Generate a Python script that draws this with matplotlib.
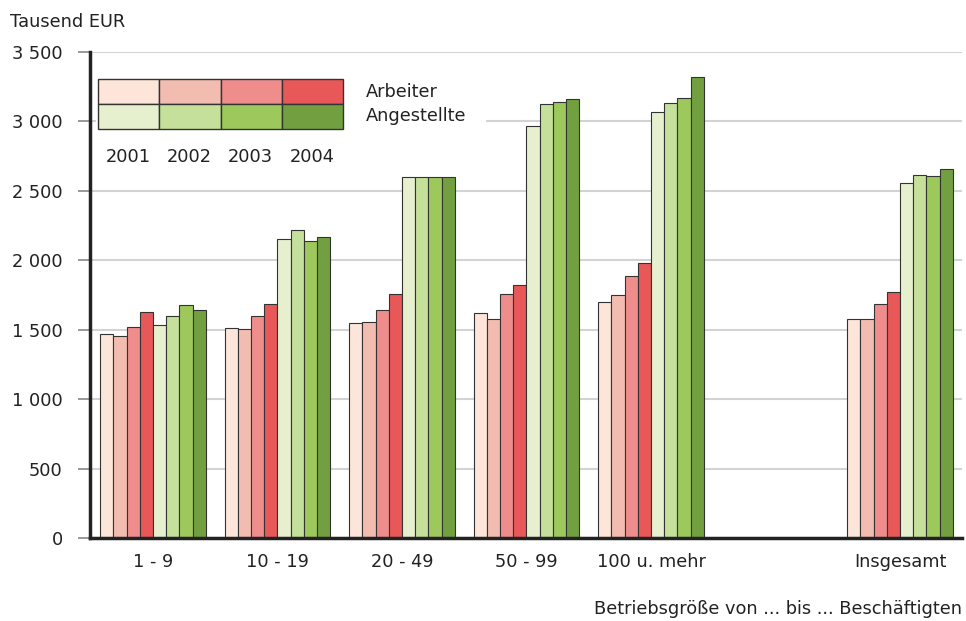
import matplotlib.pyplot as plt
import matplotlib.patches as mpatches
import numpy as np

plt.rcParams['font.family'] = ['DejaVu Sans']

groups = ['1 - 9', '10 - 19', '20 - 49', '50 - 99', '100 u. mehr', 'Insgesamt']
group_pos = [0, 1, 2, 3, 4, 6]
years = ['2001', '2002', '2003', '2004']

# Tausend EUR, per group: 2001..2004
arbeiter = [
    [1467, 1457, 1522, 1625],
    [1515, 1507, 1601, 1683],
    [1546, 1555, 1640, 1757],
    [1618, 1579, 1757, 1820],
    [1697, 1748, 1887, 1978],
    [1575, 1579, 1683, 1774],
]
angestellte = [
    [1536, 1596, 1676, 1642],
    [2153, 2218, 2139, 2165],
    [2600, 2600, 2600, 2600],
    [2969, 3123, 3140, 3161],
    [3068, 3131, 3171, 3318],
    [2559, 2614, 2609, 2660],
]

red_cols = ['#FDE5D9', '#F2BDB0', '#EF8D8D', '#E85858']
green_cols = ['#E6F0CF', '#C4E09B', '#9DC85C', '#72A040']

fs = 12.8
tc = '#222222'
W, H = 966, 621
fig = plt.figure(figsize=(W / 100, H / 100), dpi=100)
ax = fig.add_axes([90 / W, (H - 538) / H, 872 / W, 486 / H])

bw = 0.1064
for g, x0 in enumerate(group_pos):
    vals = arbeiter[g] + angestellte[g]
    cols = red_cols + green_cols
    xs = x0 + (np.arange(8) - 3.5) * bw
    ax.bar(xs, vals, width=bw, color=cols, edgecolor='#333333', linewidth=0.8, zorder=2)

ax.set_xlim(-0.506, 6.498)
ax.set_ylim(0, 3500)
ax.set_yticks(np.arange(0, 3501, 500))
ax.set_yticklabels([f'{v:,}'.replace(',', ' ') for v in range(0, 3501, 500)], fontsize=fs, color=tc)
ax.set_xticks(group_pos)
ax.set_xticklabels(groups, fontsize=fs, color=tc)
ax.tick_params(axis='x', length=0, pad=11)
ax.tick_params(axis='y', length=8.6, width=1.2, color='#888888', pad=11)
ax.yaxis.grid(True, color='#D3D3D3', linewidth=1.5, zorder=0)
ax.set_axisbelow(True)
for s in ['top', 'right']:
    ax.spines[s].set_visible(False)
for s in ['left', 'bottom']:
    ax.spines[s].set_linewidth(2.5)
    ax.spines[s].set_color(tc)
    ax.spines[s].set_zorder(3)

fig.text(10 / W, 1 - 22 / H, 'Tausend EUR', fontsize=fs, color=tc, va='center', ha='left')
fig.text(962 / W, 1 - 609 / H, 'Betriebsgröße von ... bis ... Beschäftigten', fontsize=fs,
         color=tc, va='center', ha='right')

# legend table
bg = fig.add_axes([96 / W, (H - 132) / H, 390 / W, 56 / H])
bg.set_facecolor('white')
bg.set_xticks([])
bg.set_yticks([])
for s in bg.spines.values():
    s.set_visible(False)
bg.set_zorder(5)

lg = fig.add_axes([98 / W, (H - 129) / H, 245 / W, 50 / H])
lg.set_xlim(0, 4)
lg.set_ylim(0, 2)
lg.axis('off')
lg.set_zorder(6)
for i in range(4):
    lg.add_patch(mpatches.Rectangle((i, 1), 1, 1, facecolor=red_cols[i], edgecolor='#333333',
                                    linewidth=1, clip_on=False))
    lg.add_patch(mpatches.Rectangle((i, 0), 1, 1, facecolor=green_cols[i], edgecolor='#333333',
                                    linewidth=1, clip_on=False))
    fig.text((98 + 61.25 * i + 30) / W, 1 - 157 / H, years[i], fontsize=fs, color=tc,
             ha='center', va='center', zorder=7)
fig.text(366 / W, 1 - 92 / H, 'Arbeiter', fontsize=fs, color=tc, va='center', zorder=7)
fig.text(366 / W, 1 - 116 / H, 'Angestellte', fontsize=fs, color=tc, va='center', zorder=7)

fig.savefig('out.png', dpi=100)
